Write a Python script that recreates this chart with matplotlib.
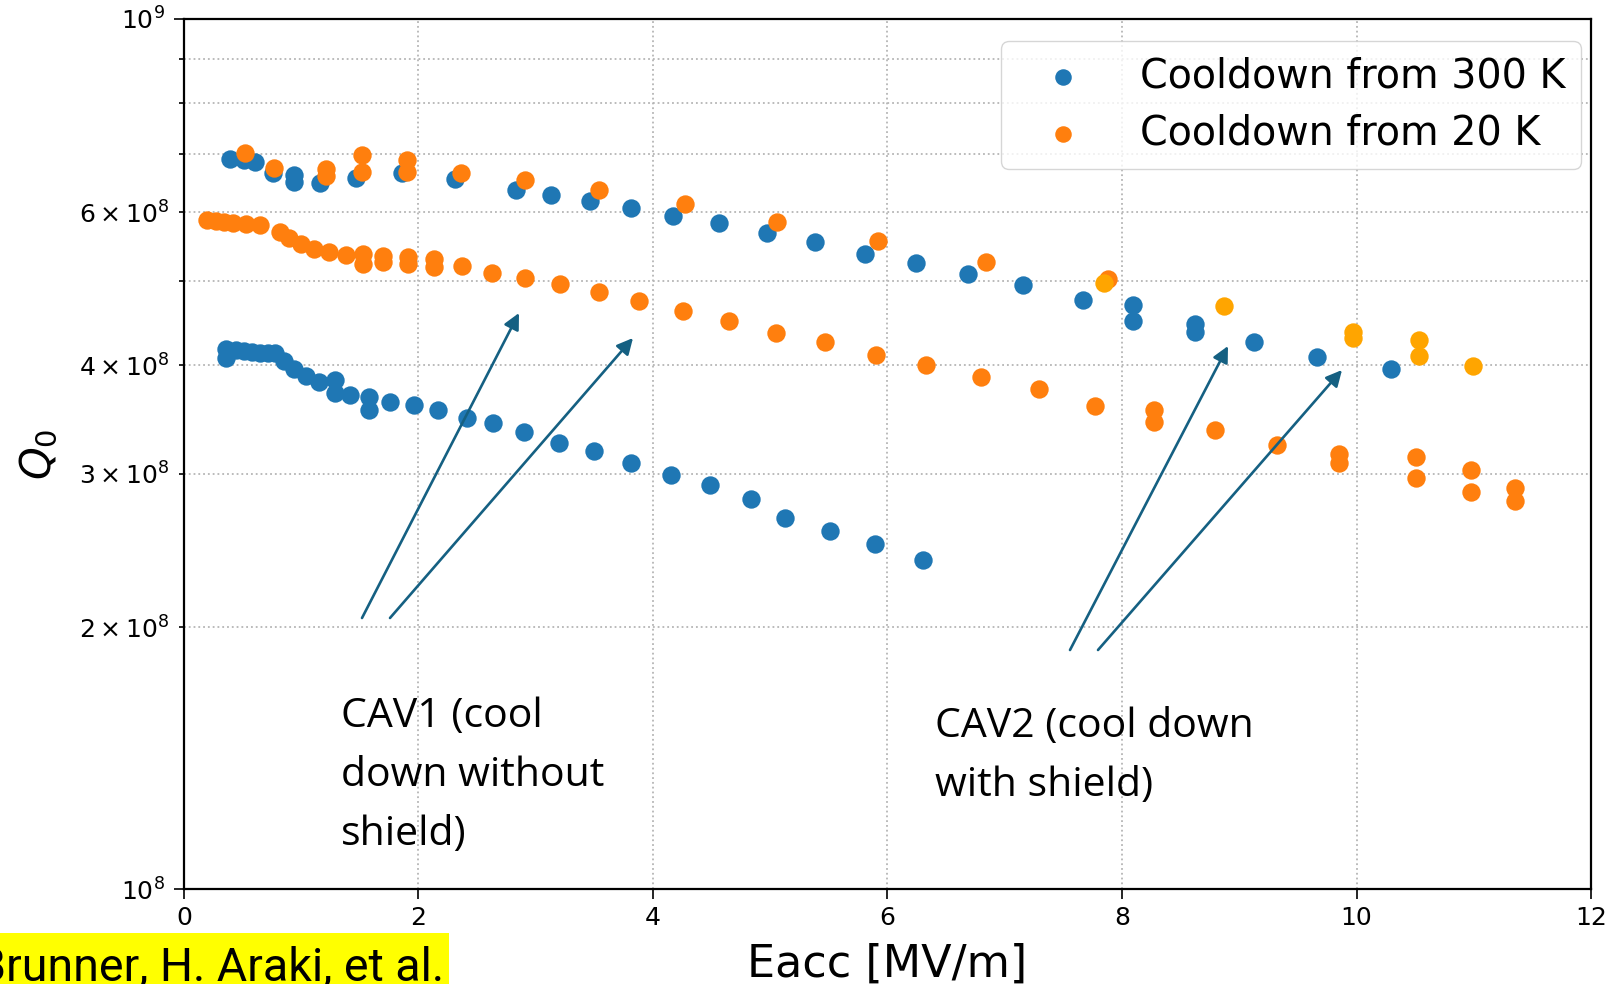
import numpy as np
import matplotlib
matplotlib.use('Agg')
from matplotlib import pyplot as plt
from matplotlib.patches import Rectangle

# CAV1 (cool down without shield) - Q0 in units of 1e8
cav1_300k_x = [0.36, 0.36, 0.44, 0.51, 0.58, 0.65, 0.72, 0.78, 0.85, 0.94, 1.04, 1.15, 1.29, 1.29,
               1.42, 1.58, 1.58, 1.76, 1.96, 2.17, 2.41, 2.64, 2.90, 3.20, 3.50, 3.81, 4.15, 4.49,
               4.84, 5.13, 5.51, 5.89, 6.30]
cav1_300k_q = [4.17, 4.08, 4.16, 4.15, 4.14, 4.13, 4.13, 4.13, 4.04, 3.96, 3.89, 3.83, 3.85, 3.72,
               3.70, 3.68, 3.55, 3.63, 3.60, 3.55, 3.48, 3.43, 3.35, 3.26, 3.19, 3.09, 2.99, 2.91,
               2.81, 2.67, 2.58, 2.49, 2.39]

cav1_20k_x = [0.20, 0.27, 0.34, 0.42, 0.53, 0.65, 0.82, 0.90, 1.00, 1.11, 1.24, 1.38, 1.53, 1.53,
              1.70, 1.70, 1.91, 1.91, 2.13, 2.13, 2.37, 2.63, 2.91, 3.21, 3.54, 3.88, 4.26, 4.65,
              5.05, 5.47, 5.90, 6.33, 6.80, 7.29, 7.77, 8.27, 8.27, 8.79, 9.32, 9.85, 9.85, 10.51,
              10.51, 10.98, 10.98, 11.35, 11.35]
cav1_20k_q = [5.88, 5.86, 5.85, 5.83, 5.82, 5.79, 5.69, 5.60, 5.52, 5.44, 5.40, 5.35, 5.37, 5.23,
              5.34, 5.26, 5.32, 5.23, 5.30, 5.19, 5.20, 5.10, 5.04, 4.96, 4.86, 4.74, 4.62, 4.50,
              4.36, 4.25, 4.11, 4.00, 3.88, 3.76, 3.59, 3.55, 3.44, 3.37, 3.24, 3.16, 3.09, 3.14,
              2.97, 3.03, 2.86, 2.89, 2.79]

# CAV2 (cool down with shield)
cav2_300k_x = [0.39, 0.51, 0.61, 0.76, 0.94, 0.94, 1.16, 1.47, 1.86, 2.31, 2.83, 3.13, 3.46, 3.81,
               4.17, 4.56, 4.97, 5.38, 5.81, 6.24, 6.69, 7.16, 7.67, 8.09, 8.09, 8.62, 8.62, 9.13,
               9.66, 10.29]
cav2_300k_q = [6.90, 6.89, 6.85, 6.65, 6.62, 6.50, 6.48, 6.56, 6.65, 6.54, 6.36, 6.28, 6.18, 6.06,
               5.93, 5.83, 5.68, 5.54, 5.37, 5.24, 5.09, 4.95, 4.75, 4.69, 4.50, 4.46, 4.37, 4.25,
               4.09, 3.96]

cav2_20k_x = [0.52, 0.77, 1.21, 1.21, 1.52, 1.52, 1.90, 1.90, 2.36, 2.91, 3.54, 4.27, 5.06, 5.92,
              6.84, 7.88]
cav2_20k_q = [7.02, 6.74, 6.72, 6.60, 6.98, 6.67, 6.89, 6.67, 6.65, 6.53, 6.36, 6.13, 5.84, 5.55,
              5.25, 5.02]

cav2_20k_late_x = [7.85, 8.87, 9.97, 9.97, 10.53, 10.53, 10.99]
cav2_20k_late_q = [4.97, 4.68, 4.37, 4.30, 4.28, 4.10, 3.99]

blue = '#1f77b4'
orange = '#ff7f0e'
amber = '#ffa500'
arrow_color = '#156082'
msize = 175

fig = plt.figure(figsize=(16.22, 9.84), dpi=100)
ax = fig.add_axes([0.1134, 0.0965, 0.8675, 0.8842])

scale = 1e8
ax.scatter(cav1_300k_x, np.array(cav1_300k_q) * scale, s=msize, color=blue, linewidths=0,
           label='Cooldown from 300 K')
ax.scatter(cav2_300k_x, np.array(cav2_300k_q) * scale, s=msize, color=blue, linewidths=0)
ax.scatter(cav1_20k_x, np.array(cav1_20k_q) * scale, s=msize, color=orange, linewidths=0,
           label='Cooldown from 20 K')
ax.scatter(cav2_20k_x, np.array(cav2_20k_q) * scale, s=msize, color=orange, linewidths=0)
ax.scatter(cav2_20k_late_x, np.array(cav2_20k_late_q) * scale, s=msize, color=amber, linewidths=0)

ax.set_yscale('log')
ax.set_xlim(0, 12)
ax.set_ylim(1e8, 1e9)
ax.set_xticks(range(0, 13, 2))
ax.grid(True, which='both', linestyle=':', color='#b5b5b5', linewidth=1.3)
ax.set_axisbelow(True)
ax.tick_params(axis='both', which='both', labelsize=18, width=1.2, direction='out')
ax.tick_params(axis='both', which='major', length=7)
ax.tick_params(axis='both', which='minor', length=3.6)
ax.tick_params(axis='x', pad=5)
ax.tick_params(axis='y', which='both', pad=7)
for sp in ax.spines.values():
    sp.set_linewidth(1.6)

ax.set_xlabel('Eacc [MV/m]', fontsize=32)
ax.xaxis.set_label_coords(0.5, -0.062)
ax.set_ylabel('$Q_0$', fontsize=30)
ax.yaxis.set_label_coords(-0.088, 0.5)

ax.legend(loc='upper right', bbox_to_anchor=(0.993, 0.975), borderaxespad=0, fontsize=28.5,
          handlelength=2.3, handletextpad=0.8, labelspacing=0.42, borderpad=0.4,
          markerscale=0.9)

# annotations added on top of the chart (va='baseline' aligns the last line)
fig.text(341 / 1622, 1 - 845 / 984, 'CAV1 (cool\ndown without\nshield)', fontsize=29.5,
         family='Open Sans', ha='left', va='baseline', linespacing=1.6)
fig.text(935 / 1622, 1 - 796 / 984, 'CAV2 (cool down\nwith shield)', fontsize=29.5,
         family='Open Sans', ha='left', va='baseline', linespacing=1.6)

arrows = [((362, 618), (519, 313)), ((390, 618), (633, 338)),
          ((1070, 650), (1228, 346)), ((1098, 650), (1342, 370))]
for (x0, y0), (x1, y1) in arrows:
    ax.annotate('', xy=(x1 / 1622, 1 - y1 / 984), xytext=(x0 / 1622, 1 - y0 / 984),
                xycoords='figure fraction', textcoords='figure fraction',
                arrowprops=dict(arrowstyle='-|>', color=arrow_color, lw=1.9,
                                mutation_scale=24, shrinkA=0, shrinkB=0))

fig.add_artist(Rectangle((0, 0), 449 / 1622, 51 / 984, transform=fig.transFigure,
                         facecolor='#ffff00', edgecolor='none'))
fig.text(444 / 1622, 4 / 984, 'Brunner, H. Araki, et al.', fontsize=33.5, family='Roboto',
         ha='right', va='baseline')

fig.savefig('out.png', dpi=100)
